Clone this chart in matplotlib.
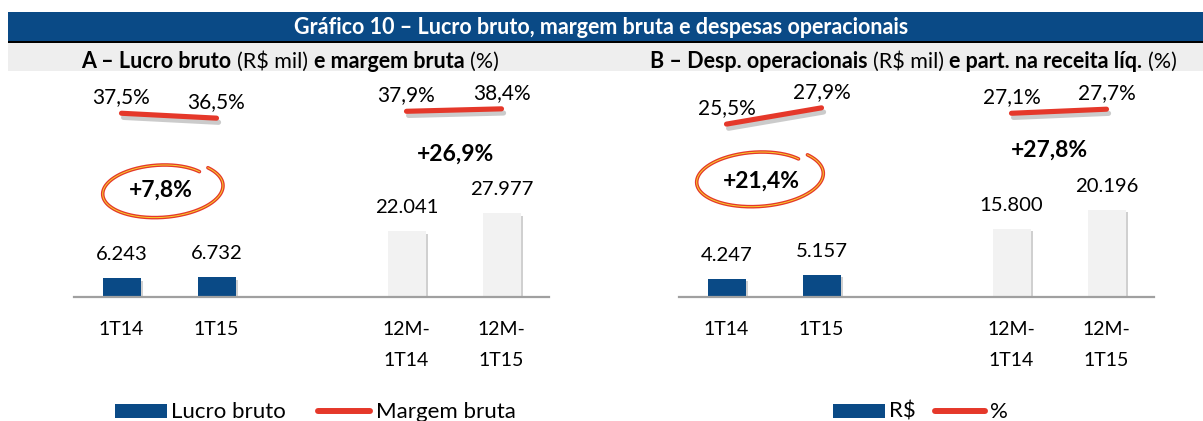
import matplotlib
matplotlib.use('Agg')
import matplotlib.pyplot as plt
import matplotlib.patheffects as pe
from matplotlib.patches import Rectangle
import numpy as np

plt.rcParams['font.family'] = ['Lato', 'DejaVu Sans']
plt.rcParams['text.parse_math'] = False

# ---------------- data ----------------
categories = ['1T14', '1T15', '12M-\n1T14', '12M-\n1T15']
lucro_bruto = [6243, 6732, 22041, 27977]          # R$ mil
margem_bruta = [37.5, 36.5, 37.9, 38.4]           # %
desp_oper = [4247, 5157, 15800, 20196]            # R$ mil
part_receita = [25.5, 27.9, 27.1, 27.7]           # %

title = 'Gráfico 10 – Lucro bruto, margem bruta e despesas operacionais'
sub_a = [('A – Lucro bruto', 'bold'), ('(R$ mil)', 'normal'),
         ('e margem bruta', 'bold'), ('(%)', 'normal')]
sub_b = [('B – Desp. operacionais', 'bold'), ('(R$ mil)', 'normal'),
         ('e part. na receita líq.', 'bold'), ('(%)', 'normal')]
legend_a = ['Lucro bruto', 'Margem bruta']
legend_b = ['R$', '%']

# ---------------- style ----------------
BLUE = '#0a4a86'
LIGHT = '#f2f2f2'
RED = '#e5382a'
YELLOW = '#f6d42a'
W, H = 1203, 421
FS = 14
FS_VAL = 14.6
FS_PCT = 15

fig = plt.figure(figsize=(W / 100, H / 100), dpi=100)
fig.patch.set_facecolor('white')

ov = fig.add_axes([0, 0, 1, 1], zorder=10)
ov.set_xlim(0, W)
ov.set_ylim(H, 0)
ov.axis('off')
ov.patch.set_alpha(0)


def fmt_int(v):
    return f'{v:,}'.replace(',', '.')


def fmt_pct(v, sign=False):
    s = f'{v:+.1f}%' if sign else f'{v:.1f}%'
    return s.replace('.', ',')


# ---------------- header ----------------
ov.add_patch(Rectangle((8, 12), W - 8, 29, color=BLUE, lw=0))
ov.add_patch(Rectangle((8, 41), W - 8, 2, color='black', lw=0))
ov.add_patch(Rectangle((8, 43), W - 8, 28, color='#eeeeee', lw=0))
ov.text(601, 34.5, title, ha='center', va='baseline', color='white',
        fontsize=15.5, fontweight='bold')

renderer = fig.canvas.get_renderer()


def text_w(s, weight, size):
    t = ov.text(0, 0, s, fontsize=size, fontweight=weight)
    w = t.get_window_extent(renderer).width
    t.remove()
    return w


def rich(xc, yb, pieces, size):
    space = text_w('a a', 'normal', size) - text_w('aa', 'normal', size)
    texts, widths = [], []
    for s, w in pieces:
        t = ov.text(0, yb, s, fontsize=size, fontweight=w, va='baseline',
                    ha='left', color='black')
        texts.append(t)
        widths.append(t.get_window_extent(renderer).width)
    total = sum(widths) + space * (len(pieces) - 1)
    x = xc - total / 2
    for t, w in zip(texts, widths):
        t.set_x(x)
        x += w + space


rich(290, 67.5, sub_a, 15.5)
rich(913, 67.5, sub_b, 15.5)

# ---------------- panels ----------------
SLOT = 95
BASE, TOP = 297, 75
pos = [0, 1, 3, 4]


def panel(c0, values, pcts, bar_px, pct_px):
    left = c0 - SLOT / 2
    ax = fig.add_axes([left / W, 1 - BASE / H, 5 * SLOT / W, (BASE - TOP) / H])
    ax.set_xlim(-0.5, 4.5)
    ax.set_ylim(0, (BASE - TOP) / bar_px)
    ax.patch.set_alpha(0)
    for s in ax.spines.values():
        s.set_visible(False)
    ax.set_yticks([])
    ax.set_xticks(pos, categories)
    ax.tick_params(axis='x', length=0, pad=17.5, labelsize=FS)
    for lab in ax.get_xticklabels():
        lab.set_linespacing(2.0)

    colors = [BLUE, BLUE, LIGHT, LIGHT]
    bars = ax.bar(pos, values, width=0.4, color=colors, zorder=2)
    for b in bars:
        b.set_path_effects([pe.SimplePatchShadow(offset=(2, -2), shadow_rgbFace='#7a7a7a',
                                                 alpha=0.35), pe.Normal()])
    ax.axhline(0, color='#a0a0a0', lw=1.6, zorder=3, clip_on=False)
    for x, v in zip(pos, values):
        ax.annotate(fmt_int(v), (x, v), xytext=(0, 18), textcoords='offset pixels',
                    ha='center', va='baseline', fontsize=FS_VAL, color='black')

    ax2 = ax.twinx()
    ax2.set_ylim(0, (BASE - TOP) / pct_px)
    ax2.set_yticks([])
    for s in ax2.spines.values():
        s.set_visible(False)
    ax2.patch.set_alpha(0)
    for seg in (slice(0, 2), slice(2, 4)):
        ax2.plot(pos[seg], pcts[seg], color=RED, lw=3.7, solid_capstyle='round',
                 path_effects=[pe.SimpleLineShadow(offset=(1.5, -3), shadow_color='#555555',
                                                   alpha=0.3), pe.Normal()])
    for x, v in zip(pos, pcts):
        ax2.annotate(fmt_pct(v), (x, v), xytext=(0, 10), textcoords='offset pixels',
                     ha='center', va='baseline', fontsize=FS_PCT, color='black')
    return ax, ax2


panel(121.5, lucro_bruto, margem_bruta, 0.003, 4.9)
panel(726.5, desp_oper, part_receita, 0.00433, 6.78)

# ---------------- growth annotations ----------------
g_a_q = (lucro_bruto[1] / lucro_bruto[0] - 1) * 100
g_a_y = (lucro_bruto[3] / lucro_bruto[2] - 1) * 100
g_b_q = (desp_oper[1] / desp_oper[0] - 1) * 100
g_b_y = (desp_oper[3] / desp_oper[2] - 1) * 100

for xc, yb, g in [(161, 197, g_a_q), (456, 161, g_a_y), (761, 188, g_b_q), (1049, 157, g_b_y)]:
    ov.text(xc, yb, fmt_pct(g, sign=True), ha='center', va='baseline', fontsize=16.5,
            fontweight='bold', color='black')


def loop(cx, cy, a, b, rot):
    t = np.radians(np.linspace(40, 400, 400))
    r = np.linspace(0.93, 1.13, t.size)
    x = a * r * np.cos(t)
    y = -b * r * np.sin(t)
    ang = np.radians(rot)
    xr = x * np.cos(ang) + y * np.sin(ang)
    yr = -x * np.sin(ang) + y * np.cos(ang)
    ov.plot(cx + xr, cy + yr, color=RED, lw=2.6, solid_capstyle='round')
    ov.plot(cx + xr, cy + yr, color=YELLOW, lw=0.7)


loop(160, 190, 57, 26, 4)
loop(757, 178, 60, 27, 4)

# ---------------- legends ----------------
def legend(x_rect, x_t1, x_l0, x_l1, x_t2, labels):
    ov.add_patch(Rectangle((x_rect, 404), 52, 14, color=BLUE, lw=0))
    ov.text(x_t1, 418, labels[0], fontsize=16, va='baseline', ha='left')
    ov.plot([x_l0, x_l1], [411, 411], color=RED, lw=4.3, solid_capstyle='round')
    ov.text(x_t2, 418, labels[1], fontsize=16, va='baseline', ha='left')


legend(115, 171, 318, 370, 376, legend_a)
legend(833, 889, 935, 985, 990, legend_b)

fig.savefig('out.png', dpi=100, facecolor='white')
